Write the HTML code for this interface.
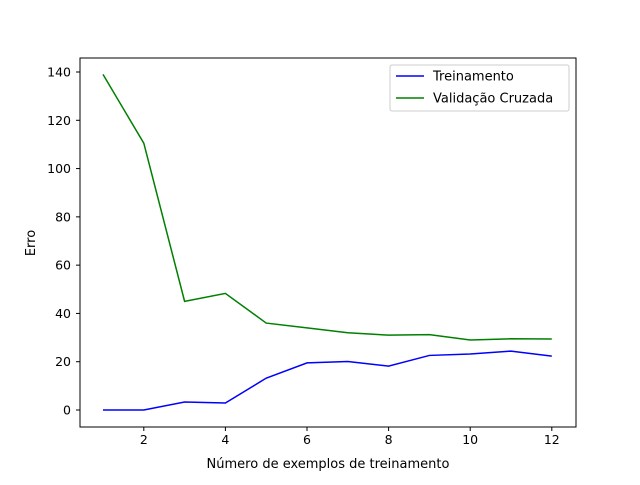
<!DOCTYPE html>
<html><head><meta charset="utf-8"><style>body{margin:0;background:#fff}svg{font-family:"DejaVu Sans","Liberation Sans",sans-serif}</style></head>
<body>
<svg id="c" width="640" height="480"></svg>
<script>
const xs=[1,2,3,4,5,6,7,8,9,10,11,12];
const trainVals=[0,0,3.3,2.9,13.2,19.5,20.1,18.2,22.6,23.2,24.4,22.3];
const valVals=[139,110.5,45,48.3,36,34,32,31,31.2,29,29.5,29.4];
const xTicks=[2,4,6,8,10,12];
const yTicks=[0,20,40,60,80,100,120,140];
const L=80,R=576,T=58,B=427;
const X=v=>103+(v-1)*40.8;
const Y=v=>410-v*(338/140);
const s=document.getElementById('c');const NS='http://www.w3.org/2000/svg';
function mk(t,a,p){const e=document.createElementNS(NS,t);for(const k in a)e.setAttribute(k,a[k]);(p||s).appendChild(e);return e;}
let r=mk('rect',{x:L,y:T,width:R-L,height:B-T,fill:'none',stroke:'#000','stroke-width':1});


xTicks.forEach(v=>{mk('line',{x1:X(v),x2:X(v),y1:B,y2:B+4,stroke:'#000'});
let t=mk('text',{x:X(v),y:B+17,'text-anchor':'middle','font-size':12.5});t.textContent=v;

});
yTicks.forEach(v=>{mk('line',{x1:L-4,x2:L,y1:Y(v),y2:Y(v),stroke:'#000'});
let t=mk('text',{x:L-9,y:Y(v)+4.5,'text-anchor':'end','font-size':12.5});t.textContent=v;

});
let xt=mk('text',{x:328,y:468,'text-anchor':'middle','font-size':13});xt.textContent='Número de exemplos de treinamento';


let yt=mk('text',{x:35,y:243,'text-anchor':'middle','font-size':13,transform:'rotate(-90 35 243)'});yt.textContent='Erro';


function line(vals,c,n){let p=mk('polyline',{points:xs.map((x,i)=>X(x)+','+Y(vals[i])).join(' '),fill:'none',stroke:c,'stroke-width':1.5});

}
line(trainVals,'#0000ff','train-line');line(valVals,'#008000','validation-line');
let g=mk('g',{});


mk('rect',{x:390,y:65,width:179,height:46,rx:2,fill:'#fff',stroke:'#ccc'},g);
mk('line',{x1:396,x2:424,y1:76,y2:76,stroke:'#0000ff','stroke-width':1.5},g);
mk('line',{x1:396,x2:424,y1:98,y2:98,stroke:'#008000','stroke-width':1.5},g);
let a=mk('text',{x:433,y:80.5,'font-size':13},g);a.textContent='Treinamento';


let b=mk('text',{x:433,y:102.5,'font-size':13},g);b.textContent='Validação Cruzada';


</script>
</body></html>
